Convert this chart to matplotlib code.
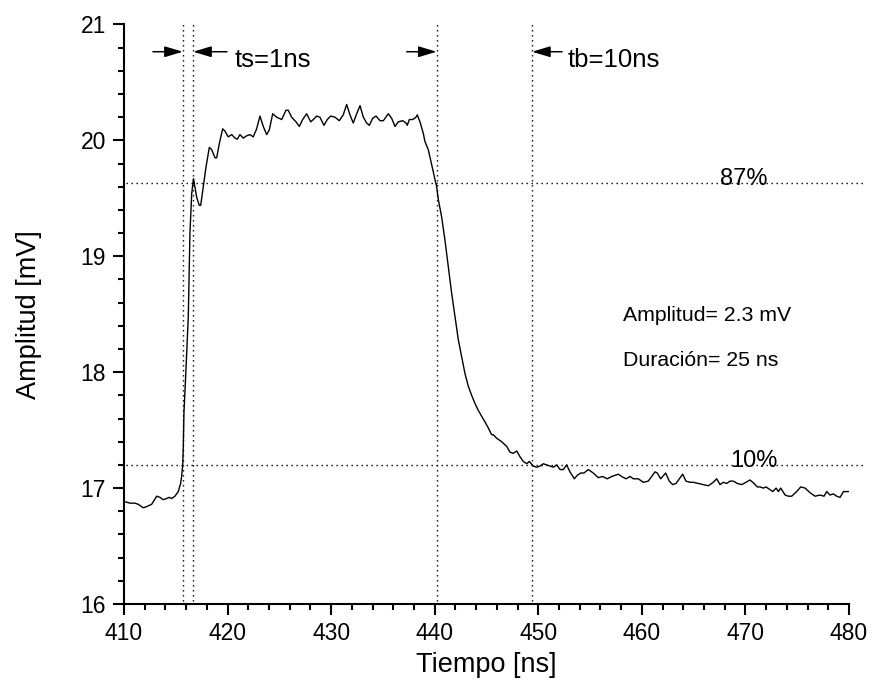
import matplotlib
matplotlib.use("Agg")
import matplotlib.pyplot as plt
from matplotlib.ticker import MultipleLocator

plt.rcParams['font.family'] = ['Liberation Sans', 'DejaVu Sans']

# Pulse waveform: time [ns] and amplitude [mV]
tiempo = [
    410.00, 410.19, 410.58, 411.06, 411.38, 411.71, 411.86, 412.19, 412.67, 413.16,
    413.48, 413.79, 414.12, 414.37, 414.61, 414.92, 415.24, 415.47, 415.57, 415.67,
    415.73, 415.79, 415.94, 416.21, 416.37, 416.54, 416.71, 417.02, 417.27, 417.41,
    417.66, 417.92, 418.24, 418.47, 418.79, 418.95, 419.20, 419.53, 419.75, 420.07,
    420.40, 420.72, 420.94, 421.20, 421.52, 421.85, 422.17, 422.48, 422.81, 423.13,
    423.45, 423.78, 424.03, 424.36, 424.74, 425.23, 425.64, 425.86, 426.19, 426.61,
    426.93, 427.25, 427.64, 428.03, 428.28, 428.61, 428.92, 429.31, 429.63, 429.96,
    430.37, 430.79, 431.17, 431.50, 431.82, 432.14, 432.47, 432.79, 433.11, 433.43,
    433.69, 434.01, 434.33, 434.72, 435.04, 435.52, 435.85, 436.17, 436.48, 436.91,
    437.23, 437.35, 437.55, 437.87, 438.19, 438.32, 438.58, 438.90, 439.06, 439.38,
    439.61, 439.86, 440.03, 440.19, 440.35, 440.67, 440.99, 441.31, 441.64, 441.96,
    442.28, 442.61, 442.92, 443.24, 443.57, 443.89, 444.21, 444.54, 444.86, 445.17,
    445.50, 445.66, 445.99, 446.47, 446.95, 447.27, 447.59, 447.92, 448.24, 448.55,
    448.88, 449.13, 449.52, 449.85, 450.17, 450.49, 450.81, 451.13, 451.45, 451.78,
    452.10, 452.42, 452.74, 453.06, 453.48, 453.77, 454.10, 454.41, 454.83, 455.31,
    455.79, 456.22, 456.66, 457.09, 457.73, 458.05, 458.47, 458.86, 459.18, 459.66,
    460.14, 460.62, 460.95, 461.27, 461.49, 461.82, 462.30, 462.65, 462.98, 463.30,
    463.62, 463.94, 464.26, 464.65, 464.97, 465.45, 465.93, 466.42, 466.90, 467.23,
    467.55, 467.86, 468.19, 468.51, 468.83, 469.22, 469.64, 470.06, 470.44, 470.83,
    471.15, 471.41, 471.73, 471.99, 472.31, 472.64, 472.96, 473.18, 473.41, 473.83,
    474.14, 474.47, 474.95, 475.34, 475.76, 476.24, 476.72, 477.20, 477.59, 477.85,
    478.17, 478.49, 478.81, 479.14, 479.46, 479.78, 480.00,
]
amplitud = [
    16.88, 16.88, 16.87, 16.87, 16.86, 16.84, 16.83, 16.84, 16.86, 16.93,
    16.92, 16.90, 16.91, 16.92, 16.91, 16.93, 16.97, 17.04, 17.10, 17.20,
    17.36, 17.65, 17.93, 18.48, 19.20, 19.54, 19.67, 19.51, 19.44, 19.44,
    19.60, 19.77, 19.94, 19.92, 19.85, 19.85, 19.97, 20.10, 20.08, 20.03,
    20.05, 20.02, 20.01, 20.05, 20.02, 20.04, 20.05, 20.03, 20.10, 20.21,
    20.12, 20.05, 20.09, 20.23, 20.20, 20.18, 20.26, 20.26, 20.20, 20.16,
    20.12, 20.18, 20.23, 20.16, 20.18, 20.21, 20.20, 20.13, 20.18, 20.21,
    20.20, 20.17, 20.22, 20.31, 20.22, 20.15, 20.23, 20.30, 20.20, 20.15,
    20.13, 20.19, 20.21, 20.17, 20.17, 20.23, 20.19, 20.12, 20.16, 20.17,
    20.15, 20.13, 20.18, 20.18, 20.20, 20.22, 20.16, 20.06, 19.99, 19.92,
    19.83, 19.73, 19.66, 19.60, 19.49, 19.34, 19.14, 18.91, 18.68, 18.48,
    18.28, 18.13, 17.99, 17.88, 17.80, 17.73, 17.67, 17.62, 17.57, 17.52,
    17.46, 17.46, 17.43, 17.40, 17.36, 17.31, 17.30, 17.32, 17.27, 17.23,
    17.21, 17.23, 17.19, 17.18, 17.19, 17.21, 17.20, 17.19, 17.18, 17.20,
    17.16, 17.16, 17.20, 17.14, 17.08, 17.11, 17.13, 17.13, 17.16, 17.13,
    17.09, 17.10, 17.08, 17.10, 17.12, 17.10, 17.08, 17.10, 17.08, 17.08,
    17.05, 17.06, 17.10, 17.14, 17.13, 17.08, 17.13, 17.06, 17.03, 17.04,
    17.08, 17.12, 17.06, 17.05, 17.05, 17.04, 17.03, 17.02, 17.05, 17.08,
    17.03, 17.05, 17.04, 17.06, 17.06, 17.04, 17.03, 17.05, 17.07, 17.04,
    17.01, 17.01, 17.00, 17.01, 16.99, 16.97, 17.00, 16.97, 17.00, 16.94,
    16.93, 16.93, 16.97, 17.01, 17.00, 16.96, 16.93, 16.94, 16.93, 16.97,
    16.94, 16.95, 16.93, 16.92, 16.97, 16.97, 16.97,
]

# Reference levels (87% and 10%) and timing markers
nivel_87 = 19.635
nivel_10 = 17.20
t_subida = [415.68, 416.68]   # ts = 1 ns
t_bajada = [440.19, 449.40]   # tb = 10 ns
y_flecha = 20.765

fig = plt.figure(figsize=(8.73, 6.92), dpi=100)
ax = fig.add_axes([0.1420, 0.1272, 0.8305, 0.8374])

ax.plot(tiempo, amplitud, color='black', lw=1.0)

ax.set_xlim(410, 480)
ax.set_ylim(16, 21)

dots = dict(color='black', lw=1.0, linestyle=(0, (1, 2.6)), clip_on=False)
for lvl in (nivel_87, nivel_10):
    ax.plot([410.2, 481.6], [lvl, lvl], **dots)
for tv in t_subida + t_bajada:
    ax.plot([tv, tv], [16.03, 21.01], **dots)

arrow = dict(arrowstyle='-|>,head_length=1.1,head_width=0.33', mutation_scale=10,
             color='black', lw=1.1, shrinkA=0, shrinkB=0)
ax.annotate('', xy=(t_subida[0], y_flecha), xytext=(412.8, y_flecha), arrowprops=arrow)
ax.annotate('', xy=(t_subida[1], y_flecha), xytext=(419.95, y_flecha), arrowprops=arrow)
ax.annotate('', xy=(t_bajada[0], y_flecha), xytext=(437.3, y_flecha), arrowprops=arrow)
ax.annotate('', xy=(t_bajada[1], y_flecha), xytext=(452.3, y_flecha), arrowprops=arrow)

ax.text(420.72, 20.636, 'ts=1ns', fontsize=18.5, ha='left', va='baseline')
ax.text(452.83, 20.632, 'tb=10ns', fontsize=18.5, ha='left', va='baseline')
ax.text(467.55, 19.615, '87%', fontsize=17, ha='left', va='baseline')
ax.text(468.51, 17.18, '10%', fontsize=17, ha='left', va='baseline')
ax.text(458.18, 18.485, 'Amplitud= 2.3 mV', fontsize=15.3, ha='left', va='center')
ax.text(458.18, 18.097, 'Duración= 25 ns', fontsize=15.3, ha='left', va='center')

ax.spines['top'].set_visible(False)
ax.spines['right'].set_visible(False)
for s in ('left', 'bottom'):
    ax.spines[s].set_linewidth(1.5)

ax.xaxis.set_major_locator(MultipleLocator(10))
ax.xaxis.set_minor_locator(MultipleLocator(2))
ax.yaxis.set_major_locator(MultipleLocator(1))
ax.yaxis.set_minor_locator(MultipleLocator(0.2))
ax.tick_params(which='major', direction='out', length=8, width=1.5, labelsize=16.5, pad=5)
ax.tick_params(which='minor', direction='out', length=4.5, width=1.5)

ax.set_xlabel('Tiempo [ns]', fontsize=19.5, labelpad=5)
ax.set_ylabel('Amplitud [mV]', fontsize=19.5, labelpad=28)

fig.savefig('out.png', dpi=100)
